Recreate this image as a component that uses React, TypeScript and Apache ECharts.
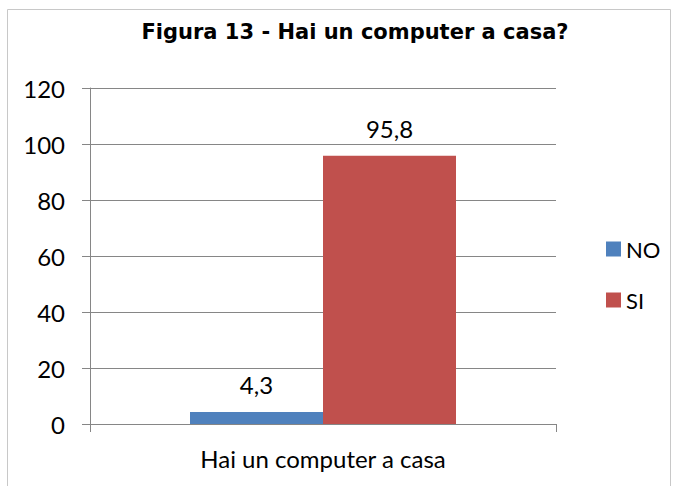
import React, { useEffect, useRef } from "react";
import * as echarts from "echarts";

const categories = ["Hai un computer a casa"];
const seriesNames = ["NO", "SI"];
const noValues = [4.3];
const siValues = [95.8];
const colors = ["#4F81BD", "#C0504D"];
const titleText = "Figura 13 - Hai un computer a casa?";

export default function App() {
  const ref = useRef<HTMLDivElement>(null);
  useEffect(() => {
    if (!ref.current) return;
    const chart = echarts.init(ref.current, null, { renderer: "svg" });
    const fmt = (p: any) => String(p.value).replace(".", ",");
    const axisFont = { fontFamily: "Lato, 'Open Sans', sans-serif", fontSize: 24, color: "#000" };
    chart.setOption({
      animation: false,
      backgroundColor: "#fff",
      title: {
        text: titleText,
        left: 350,
        textAlign: "center",
        top: 16,
        textStyle: { fontFamily: "'DejaVu Sans', Verdana, sans-serif", fontWeight: "bold", fontSize: 21, color: "#000" },
      },
      graphic: [
        {
          type: "rect",
          shape: { x: 7.5, y: 9.5, width: 663, height: 500 },
          style: { fill: "none", stroke: "#c8c8c8", lineWidth: 1 },
          silent: true,
          z: -1,
        },
      ],
      legend: {
        orient: "vertical",
        left: 601,
        top: 233,
        itemWidth: 15,
        itemHeight: 15,
        itemGap: 29,
        icon: "rect",
        textStyle: { ...axisFont, fontSize: 22, lineHeight: 22 },
        data: seriesNames,
      },
      grid: { left: 90, right: 118, top: 88, bottom: 62 },
      xAxis: {
        type: "category",
        data: categories,
        axisLine: { lineStyle: { color: "#868686" } },
        axisTick: { show: true, length: 8, lineStyle: { color: "#868686" } },
        axisLabel: { ...axisFont, margin: 22 },
      },
      yAxis: {
        type: "value",
        min: 0,
        max: 120,
        interval: 20,
        axisLine: { show: true, lineStyle: { color: "#868686" } },
        axisTick: { show: true, length: 8, lineStyle: { color: "#868686" } },
        splitLine: { lineStyle: { color: "#868686" } },
        axisLabel: { ...axisFont, margin: 25 },
      },
      series: [
        {
          name: seriesNames[0],
          type: "bar",
          data: noValues,
          barWidth: 133,
          barGap: "0%",
          itemStyle: { color: colors[0] },
          label: { show: true, position: "top", formatter: fmt, ...axisFont, distance: 15 },
        },
        {
          name: seriesNames[1],
          type: "bar",
          data: siValues,
          barWidth: 133,
          barGap: "0%",
          itemStyle: { color: colors[1] },
          label: { show: true, position: "top", formatter: fmt, ...axisFont, distance: 15 },
        },
      ],
    });
    return () => chart.dispose();
  }, []);
  return (
    <div
      ref={ref}
      style={{ position: "fixed", left: 0, top: 0, width: 674, height: 486 }}
    />
  );
}
